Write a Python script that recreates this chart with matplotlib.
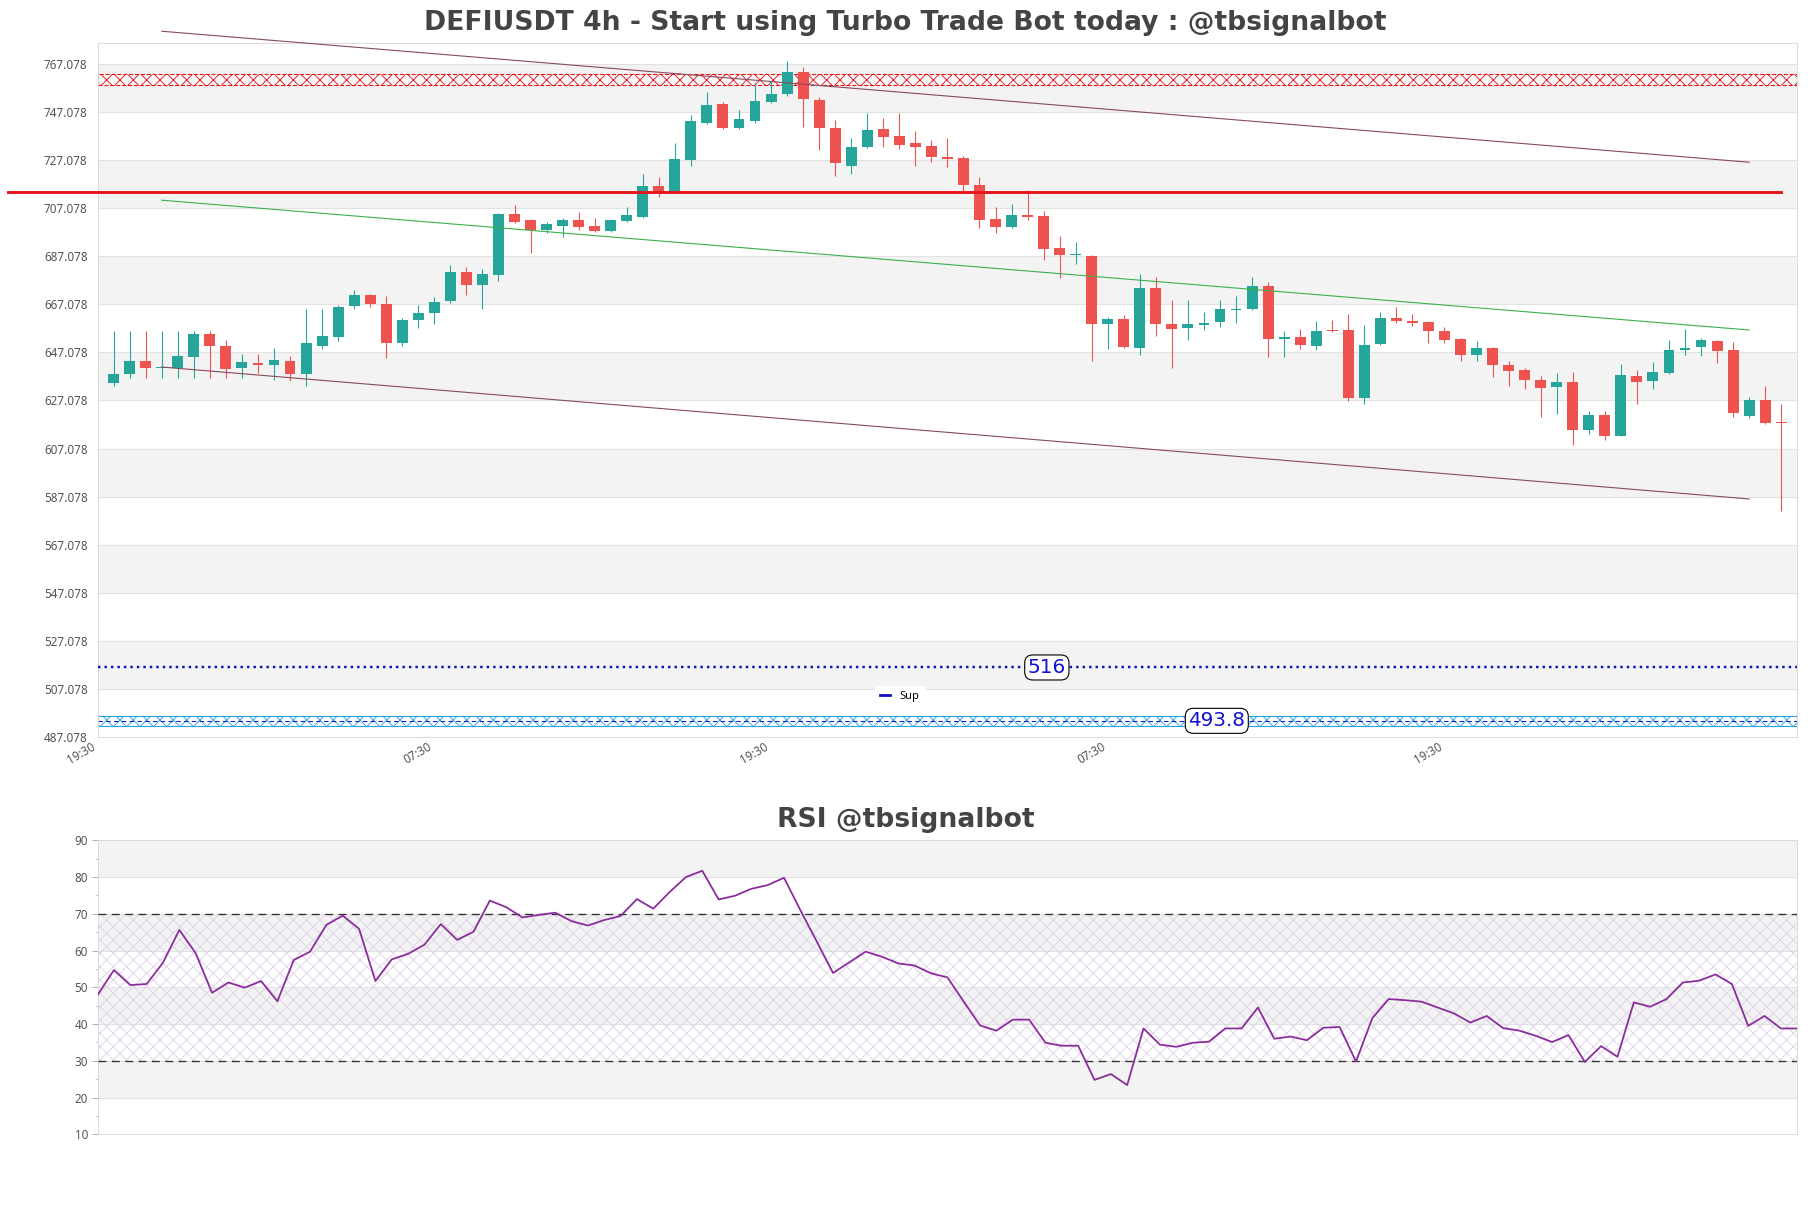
import numpy as np
import matplotlib
matplotlib.use('Agg')
import matplotlib.pyplot as plt
from matplotlib.lines import Line2D


# 4h candles
opens = [634.2, 638.3, 643.6, 640.5, 640.8, 645.0, 654.9, 649.9, 640.4, 642.8,
         641.7, 643.6, 638.3, 649.6, 653.3, 666.2, 671.1, 667.4, 650.8, 660.4,
         663.3, 668.3, 680.7, 675.0, 679.2, 704.6, 702.1, 697.9, 699.6, 702.1,
         699.6, 697.6, 701.8, 703.5, 716.2, 713.5, 727.1, 742.6, 750.4, 740.5,
         743.5, 751.4, 754.7, 763.7, 752.1, 740.3, 724.7, 732.6, 740.0, 737.1,
         734.0, 732.9, 728.5, 727.9, 716.9, 702.4, 699.3, 704.2, 703.7, 690.5,
         687.5, 687.1, 658.7, 661.1, 649.0, 674.0, 658.7, 657.3, 658.3, 659.6,
         664.6, 665.3, 674.9, 652.6, 653.5, 649.6, 656.5, 656.5, 628.3, 650.4,
         661.5, 660.0, 659.6, 656.1, 652.8, 645.8, 649.0, 641.9, 639.6, 635.7,
         632.5, 634.9, 614.6, 621.2, 612.5, 637.4, 635.0, 638.7, 648.2, 649.2,
         651.9, 648.2, 620.8, 627.4, 618.1]
highs = [656.1, 656.1, 656.1, 656.1, 656.1, 656.1, 656.1, 652.4, 646.5, 646.5,
         649.0, 645.7, 665.3, 665.3, 666.7, 673.2, 671.5, 670.7, 661.5, 666.9,
         670.3, 683.6, 682.8, 681.9, 705.0, 708.3, 702.4, 701.5, 702.8, 705.4,
         703.2, 702.4, 707.4, 721.3, 720.0, 734.4, 745.8, 755.5, 751.4, 747.9,
         759.3, 760.0, 768.3, 765.8, 753.2, 743.7, 736.4, 746.5, 744.4, 746.5,
         739.2, 735.4, 736.4, 728.9, 719.9, 707.4, 708.9, 714.6, 705.8, 695.4,
         693.0, 687.5, 661.8, 662.5, 679.9, 678.5, 668.7, 669.0, 663.9, 669.0,
         670.7, 678.5, 676.4, 656.1, 656.9, 660.3, 660.7, 663.2, 658.6, 664.0,
         666.1, 663.2, 660.0, 657.6, 653.0, 651.9, 649.4, 643.3, 640.4, 637.1,
         638.7, 639.0, 622.9, 622.9, 642.4, 639.9, 643.2, 652.1, 656.9, 652.9,
         652.4, 651.5, 628.7, 633.3, 625.7]
lows = [633.3, 636.3, 636.3, 636.3, 636.3, 636.3, 636.3, 636.3, 636.3, 638.7,
        635.8, 635.0, 633.3, 648.3, 651.7, 665.0, 665.8, 644.6, 649.6, 657.4,
        658.7, 667.5, 670.8, 665.0, 676.7, 701.0, 688.5, 696.9, 695.1, 698.2,
        697.2, 697.2, 701.5, 703.2, 711.8, 713.2, 724.7, 742.3, 740.2, 740.1,
        742.4, 750.7, 753.9, 741.0, 731.4, 720.5, 721.5, 732.2, 732.6, 731.8,
        724.7, 726.1, 724.3, 713.5, 698.9, 696.8, 699.0, 702.1, 685.4, 678.2,
        684.0, 643.7, 648.6, 648.9, 646.2, 653.9, 640.5, 652.1, 656.2, 657.5,
        659.3, 664.6, 645.0, 645.0, 648.3, 647.9, 655.6, 626.7, 625.8, 650.0,
        659.3, 658.2, 651.2, 650.8, 643.7, 643.3, 636.7, 632.9, 631.7, 620.4,
        621.5, 608.7, 613.3, 610.8, 612.1, 625.8, 631.7, 637.9, 646.2, 645.4,
        642.5, 620.4, 619.6, 617.3, 581.2]
closes = [638.2, 643.6, 640.4, 641.2, 645.7, 654.9, 649.6, 640.0, 643.2, 641.7,
          644.0, 638.3, 651.1, 654.0, 666.1, 671.1, 667.1, 650.8, 660.7, 663.6,
          668.2, 680.7, 675.0, 679.9, 704.6, 701.4, 697.9, 700.4, 702.1, 699.3,
          697.6, 702.1, 704.2, 716.2, 713.5, 727.5, 743.3, 750.0, 740.5, 744.2,
          751.7, 754.6, 763.7, 752.4, 740.5, 725.7, 732.4, 739.6, 736.8, 733.3,
          732.6, 728.5, 727.6, 716.9, 702.1, 699.3, 704.2, 703.5, 689.9, 687.6,
          688.2, 658.7, 661.1, 649.3, 674.0, 659.0, 656.9, 658.7, 659.3, 665.1,
          665.3, 674.9, 652.5, 653.5, 650.0, 656.1, 655.8, 628.3, 650.3, 661.5,
          660.0, 659.3, 656.0, 652.1, 645.8, 649.0, 641.7, 639.2, 635.4, 632.1,
          634.9, 615.0, 621.2, 612.5, 637.8, 634.6, 639.0, 648.2, 649.0, 652.4,
          647.5, 621.7, 627.4, 617.6, 617.6]

rsi = [47.9, 54.7, 50.6, 50.9, 56.7, 65.6, 59.3, 48.5, 51.3, 49.9,
       51.7, 46.2, 57.4, 59.7, 67.0, 69.5, 65.9, 51.7, 57.6, 59.1,
       61.6, 67.2, 62.9, 65.1, 73.6, 71.8, 69.0, 69.7, 70.3, 68.0,
       66.8, 68.3, 69.4, 74.0, 71.4, 75.9, 80.0, 81.7, 73.9, 74.9,
       76.8, 77.8, 79.8, 71.0, 62.5, 53.9, 56.8, 59.7, 58.3, 56.5,
       55.9, 53.8, 52.7, 46.1, 39.6, 38.2, 41.2, 41.2, 34.9, 34.1,
       34.1, 24.8, 26.4, 23.4, 38.8, 34.4, 33.8, 34.9, 35.2, 38.8,
       38.8, 44.5, 36.0, 36.6, 35.6, 39.0, 39.2, 29.8, 41.6, 46.8,
       46.5, 46.1, 44.5, 42.9, 40.4, 42.2, 38.9, 38.2, 36.8, 35.1,
       37.0, 29.7, 34.0, 31.1, 45.9, 44.7, 46.8, 51.3, 51.8, 53.5,
       50.9, 39.5, 42.2, 38.8, 38.8]

xtick_labels = ['19:30', '07:30', '19:30', '07:30', '19:30']
tick_step = 21

# levels / zones
res_zone = (758.5, 762.9)
sup_zone = (491.8, 496.0)
sup_zone_mid = 493.8
sup_level = 516
res_level = 713.7
res_line_x = [-6.6, 104]
channel_x = [3, 102]
channel_top = [780.7, 726.2]
channel_mid = [710.4, 656.4]
channel_bot = [641.0, 586.1]
label_516_x = 58.2
label_4938_x = 68.8

title = 'DEFIUSDT 4h - Start using Turbo Trade Bot today : @tbsignalbot'
rsi_title = 'RSI @tbsignalbot'

plt.rcParams['font.family'] = ['Noto Sans', 'DejaVu Sans']
plt.rcParams['hatch.linewidth'] = 0.8

DPI = 80
fig = plt.figure(figsize=(1811 / DPI, 1208 / DPI), dpi=DPI)
ax = fig.add_axes([0.0539, 0.3899, 0.9385, 0.5743])
rax = fig.add_axes([0.0539, 0.0610, 0.9385, 0.2434])

green = '#26a69a'
red = '#ef5350'
band = '#f3f3f3'
spine_c = '#d8d8d8'

# ---- price chart
o = np.array(opens)
c = np.array(closes)
x = np.arange(len(o))
cols = np.where(c >= o, green, red)
ax.vlines(x, lows, highs, colors=cols, lw=1, zorder=3)
ax.bar(x, np.maximum(np.abs(c - o), 0.6), bottom=np.minimum(o, c), width=0.68,
       color=cols, zorder=4)

ylo, yhi = 487.078, 775.7
yt = np.arange(ylo, yhi, 20)
for i in range(len(yt) - 1):
    if i % 2 == 1:
        ax.axhspan(yt[i], yt[i + 1], color=band, lw=0, zorder=0)

ax.axhspan(*res_zone, facecolor=(1, 1, 1, 0.5), edgecolor='#e8141b', hatch='xx',
           lw=1, ls='--', zorder=2)
ax.axhspan(*sup_zone, facecolor=(1, 1, 1, 0.5), edgecolor='#2aa3e3', hatch='xx',
           lw=1, zorder=2)
ax.axhline(sup_zone_mid, color='#1020c0', lw=1, ls=(0, (4, 3)), zorder=2)
ax.axhline(sup_level, color='#0a14b4', lw=2.2, ls=':', zorder=3)

ax.plot(res_line_x, [res_level, res_level], color='#e8141b', lw=2.6,
        clip_on=False, zorder=5)
ax.plot(channel_x, channel_top, color='#8a4a5e', lw=1, clip_on=False, zorder=5)
ax.plot(channel_x, channel_mid, color='#3cb04a', lw=1, clip_on=False, zorder=5)
ax.plot(channel_x, channel_bot, color='#8a4a5e', lw=1, clip_on=False, zorder=5)

box = dict(boxstyle='round,pad=0.15,rounding_size=0.4', fc='white', ec='black', lw=1)
ax.text(label_516_x, sup_level, str(sup_level), fontsize=18, color='#1010d0',
        family='DejaVu Sans', ha='center', va='center', bbox=box, zorder=7)
ax.text(label_4938_x, sup_zone_mid, str(sup_zone_mid), fontsize=18, color='#1010d0',
        family='DejaVu Sans', ha='center', va='center', bbox=box, zorder=7)

proxy = Line2D([], [], color='#1010c0', lw=2.5)
leg = ax.legend([proxy], ['Sup'], loc='center', bbox_to_anchor=(0.472, 0.058),
                fontsize=10, handlelength=0.9, frameon=True, framealpha=1,
                edgecolor='white', borderpad=0.5)
leg.set_zorder(8)

ax.set_xlim(-1, len(o))
ax.set_ylim(ylo, yhi)
ax.set_yticks(yt)
ax.set_yticklabels(['%.3f' % v for v in yt])
ax.set_xticks(np.arange(len(xtick_labels)) * tick_step - 1)
ax.set_xticklabels(xtick_labels, rotation=30, ha='right')
ax.tick_params(length=0, labelsize=10.5, labelcolor='#555555')
ax.tick_params(axis='y', pad=9)
ax.tick_params(axis='x', pad=3)
ax.grid(axis='y', color='#e2e2e2', lw=1)
ax.set_axisbelow(True)
for s in ax.spines.values():
    s.set_color(spine_c)

# ---- RSI
xr = np.arange(len(rsi))
for lo in [20, 40, 60, 80]:
    rax.axhspan(lo, lo + 10, color=band, lw=0, zorder=0)
rax.axhspan(30, 70, facecolor='none', edgecolor='#ddd2e6', hatch='xx', lw=0, zorder=1)
rax.axhline(70, color='#333333', lw=1.2, ls=(0, (6, 4)), zorder=3)
rax.axhline(30, color='#333333', lw=1.2, ls=(0, (6, 4)), zorder=3)
rax.plot(xr, rsi, color='#8a2b9c', lw=1.6, zorder=4)
rax.set_xlim(0, len(rsi) - 1)
rax.set_ylim(10, 90)
rax.set_yticks(np.arange(10, 91, 10))
rax.set_yticks(np.arange(15, 90, 10), minor=True)
rax.set_xticks([])
rax.tick_params(axis='y', which='major', length=5, color='#aaaaaa',
                labelsize=10.5, labelcolor='#555555')
rax.tick_params(axis='y', which='minor', length=3, color='#aaaaaa')
rax.grid(axis='y', color='#e2e2e2', lw=1)
rax.set_axisbelow(True)
for s in rax.spines.values():
    s.set_color(spine_c)

title_font = dict(ha='center', va='center', fontsize=24, fontweight='bold',
                  color='#444444', family='DejaVu Sans')
fig.text(0.5, 0.981, title, **title_font)
fig.text(0.5, 0.321, rsi_title, **title_font)

fig.savefig('out.png', dpi=DPI)
